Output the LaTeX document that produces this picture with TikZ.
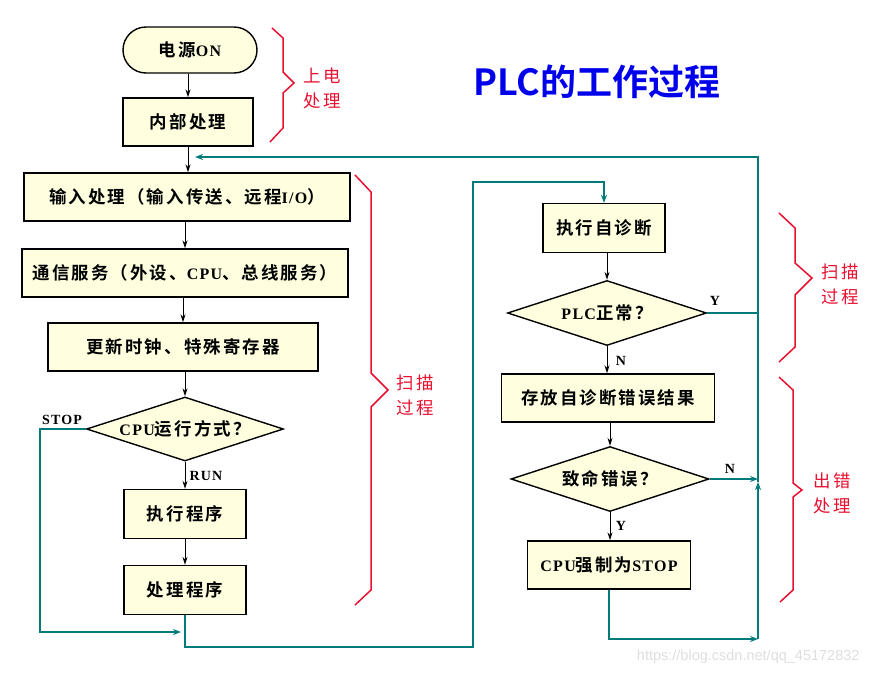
\documentclass[tikz,border=0pt]{standalone}
\usepackage{fontspec}
\setmainfont{Liberation Serif}[LetterSpace=8]
\newfontfamily\cjk{Noto Sans CJK SC}[Scale=1.09, LetterSpace=12, BoldFont={Noto Sans CJK SC Bold}]
\newfontfamily\titlefont{Noto Sans CJK SC Bold}
\newfontfamily\wmfont{Liberation Sans}
\usetikzlibrary{shapes.geometric,arrows.meta}
\newcommand\zh[1]{{\cjk #1}}
\definecolor{boxfill}{RGB}{255,255,224}
\definecolor{tealc}{RGB}{0,122,122}
\definecolor{redb}{RGB}{232,16,48}
\definecolor{titleblue}{RGB}{0,0,235}
\tikzset{
  box/.style={draw=black, line width=1.4pt, fill=boxfill, inner sep=0pt,
    font=\bfseries\fontsize{16}{19}\selectfont},
  dia/.style={diamond, draw=black, line width=1.4pt, fill=boxfill, inner sep=0pt,
    font=\bfseries\fontsize{16}{19}\selectfont},
  arr/.style={-{Stealth[length=8pt,width=5pt]}, line width=1pt},
  tl/.style={draw=tealc, line width=1.8pt},
  tarr/.style={tl, -{Stealth[length=8pt,width=6pt]}},
  bracec/.style={draw=redb, line width=1.5pt},
  lab/.style={font=\bfseries\fontsize{14}{16}\selectfont},
  redlab/.style={text=redb, align=center, font=\cjk\fontsize{16}{25}\selectfont}
}
\begin{document}
\begin{tikzpicture}[x=1pt,y=-1pt]
\useasboundingbox (0,0) rectangle (872,675);
% title
\node[font=\titlefont\fontsize{36}{40}\selectfont, text=titleblue] (title) at (597,82) {PLC的工作过程};
% left column
\node[box, rounded corners=23pt, minimum width=134pt, minimum height=46pt] (on) at (190,50) {\zh{电源}ON};
\node[box, minimum width=130pt, minimum height=48pt] (inner) at (188,122) {\zh{内部处理}};
\node[box, minimum width=326pt, minimum height=48pt] (input) at (187,197) {\zh{输入处理（输入传送、远程}I/O\zh{）}};
\node[box, minimum width=326pt, minimum height=48pt] (comm) at (185,273) {\zh{通信服务（外设、}CPU\zh{、总线服务）}};
\node[box, minimum width=270pt, minimum height=48pt] (upd) at (183,347) {\zh{更新时钟、特殊寄存器}};
\node[dia, minimum width=197pt, minimum height=64pt] (cpu) at (185,429) {\makebox[0pt]{CPU\zh{运行方式？}}};
\node[box, minimum width=122pt, minimum height=49pt] (exec) at (185,514) {\zh{执行程序}};
\node[box, minimum width=122pt, minimum height=49pt] (proc) at (185,590) {\zh{处理程序}};
% right column
\node[box, minimum width=122pt, minimum height=49pt] (self) at (604,228) {\zh{执行自诊断}};
\node[dia, minimum width=199pt, minimum height=65pt] (plc) at (607,313) {\makebox[0pt]{PLC\zh{正常？}}};
\node[box, minimum width=213pt, minimum height=48pt] (store) at (608,398) {\zh{存放自诊断错误结果}};
\node[dia, minimum width=198pt, minimum height=65pt] (fatal) at (610,479) {\makebox[0pt]{\zh{致命错误？}}};
\node[box, minimum width=163pt, minimum height=48pt] (stopb) at (609,565) {CPU\zh{强制为}STOP};
% labels
\node[lab] (stopl) at (62,420) {STOP};
\node[lab] (runl) at (206,476) {RUN};
\node[lab] (y1) at (715,301) {Y};
\node[lab] (n1) at (621,361) {N};
\node[lab] (n2) at (730,469) {N};
\node[lab] (y2) at (621,526) {Y};
% black arrows
\draw[arr] (inner.north |- on.south) -- (inner.north);
\draw[arr] (inner.south) -- (inner.south |- input.north);
\draw[arr] (input.south -| comm.north) -- (comm.north);
\draw[arr] (comm.south -| upd.north) -- (upd.north);
\draw[arr] (upd.south -| cpu.north) -- (cpu.north);
\draw[arr] (cpu.south) -- (exec.north);
\draw[arr] (exec.south) -- (proc.north);
\draw[arr] (self.south -| plc.north) -- (plc.north);
\draw[arr] (plc.south) -- (plc.south |- store.north);
\draw[arr] (store.south -| fatal.north) -- (fatal.north);
\draw[arr] (fatal.south) -- (fatal.south |- stopb.north);
% teal connectors
\coordinate (rt) at (758,157);
\coordinate (rb) at (758,639);
\coordinate (rm) at (758,482);
\coordinate (ret) at (195,157);
\coordinate (sb) at (40,632);
\coordinate (se) at (181,632);
\coordinate (lb) at (473,647);
\coordinate (lt) at (473,182);
\draw[tarr] (cpu.west) -| (sb) -- (se);
\draw[tarr] (proc.south) |- (lb) -- (lt) -| (self.north);
\draw[tl] (plc.east) -- (plc.east -| rt);
\draw[tarr] (fatal.east) -- (fatal.east -| rt);
\draw[tarr] (stopb.south) |- (rb);
\draw[tarr] (rb) -- (rm);
\draw[tarr] (rm) -- (rt) -- (ret);
% red braces
\draw[bracec] (272,28) -- (283,38) -- (283,72) -- (294,83) -- (283,93) -- (283,128) -- (270,142);
\draw[bracec] (355,175) -- (371,192) -- (371,373) -- (388,390) -- (371,407) -- (371,590) -- (355,605);
\draw[bracec] (779,213) -- (795,228) -- (795,263) -- (812,278) -- (795,295) -- (795,347) -- (779,362);
\draw[bracec] (779,377) -- (793,390) -- (793,483) -- (802,490) -- (793,497) -- (793,590) -- (780,602);
\node[redlab] (l1) at (322,88) {上电\\处理};
\node[redlab] (l2) at (415,395) {扫描\\过程};
\node[redlab] (l3) at (840,284) {扫描\\过程};
\node[redlab] (l4) at (832,493) {出错\\处理};
% watermark
\node[font=\wmfont\fontsize{14.5}{16}\selectfont, text=black!13, anchor=east] (wm) at (863,657) {https://blog.csdn.net/qq\_45172832};
\end{tikzpicture}
\end{document}
